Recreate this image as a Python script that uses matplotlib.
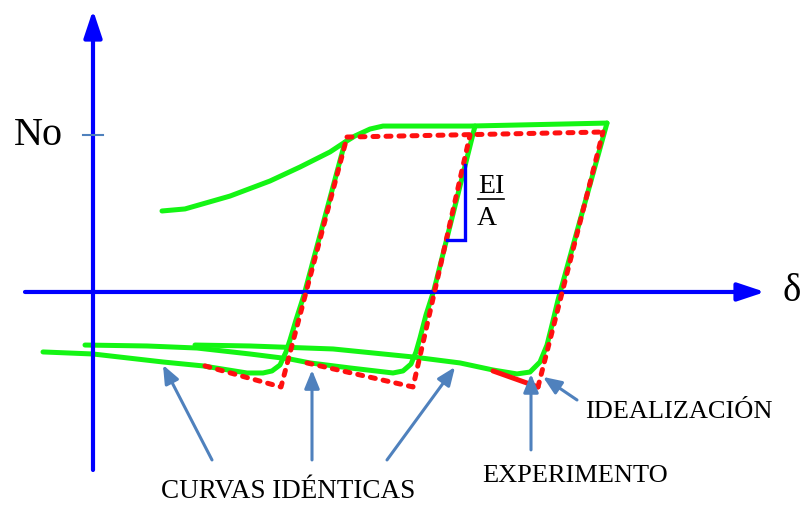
import matplotlib
matplotlib.use("Agg")
import matplotlib.pyplot as plt

# Diagram coordinates: delta (displacement) and N / No (normalised axial force)
X_MIN, X_MAX = -0.93, 7.11
Y_MIN, Y_MAX = -1.357, 1.860

# Experimental curve: first loading branch followed by the yield plateau
load_d = [0.69, 0.92, 1.37, 1.77, 2.07, 2.37, 2.52, 2.62, 2.77, 2.90, 3.77, 5.14]
load_n = [0.516, 0.529, 0.611, 0.707, 0.796, 0.892, 0.955, 0.994, 1.038, 1.057, 1.057, 1.076]

# Experimental compression branches ("identical curves") with their reloading lines
exp1_d = [-0.50, 0.00, 0.70, 1.10, 1.54, 1.70, 1.79, 1.87, 1.93, 1.97, 2.03, 2.11, 2.19, 2.52]
exp1_n = [-0.382, -0.395, -0.446, -0.471, -0.516, -0.516, -0.503, -0.465, -0.382, -0.306, -0.178, -0.019, 0.172, 0.955]

exp2_d = [-0.08, 0.54, 1.04, 1.57, 1.97, 2.17, 2.57, 3.00, 3.10, 3.18, 3.23, 3.27, 3.33, 3.41, 3.82]
exp2_n = [-0.338, -0.344, -0.357, -0.395, -0.427, -0.452, -0.484, -0.516, -0.503, -0.459, -0.382, -0.293, -0.146, 0.013, 1.057]

exp3_d = [1.02, 1.57, 2.40, 3.20, 3.67, 4.00, 4.24, 4.37, 4.47, 4.54, 4.59, 4.65, 5.14]
exp3_n = [-0.338, -0.344, -0.363, -0.414, -0.452, -0.497, -0.522, -0.510, -0.446, -0.338, -0.210, -0.051, 1.076]

# Idealised (bilinear) model
ideal_top_d = [2.54, 5.10]
ideal_top_n = [0.987, 1.019]
ideal1_d = [1.12, 1.88, 2.54]
ideal1_n = [-0.471, -0.605, 0.987]
ideal2_d = [2.14, 3.20, 3.77]
ideal2_n = [-0.452, -0.605, 1.000]
ideal3_flat_d = [4.00, 4.45]
ideal3_flat_n = [-0.503, -0.605]
ideal3_up_d = [4.45, 5.10]
ideal3_up_n = [-0.605, 1.019]

# Elastic slope marker (EI / A)
slope_d = [3.54, 3.72, 3.72]
slope_n = [0.331, 0.331, 0.809]

# Axes extents
axis_x_start, axis_x_tip = -0.68, 6.72
axis_y_start, axis_y_tip = -1.134, 1.796
no_level = 1.0

# Callout arrows: (tail delta, tail N, head delta, head N)
callouts = [
    (1.19, -1.070, 0.70, -0.465),
    (2.19, -1.070, 2.19, -0.497),
    (2.94, -1.070, 3.62, -0.478),
    (4.38, -1.006, 4.38, -0.522),
    (4.84, -0.688, 4.50, -0.541),
]

GREEN = "#14f514"
RED = "#ff1010"
BLUE = "#0000ff"
STEEL = "#4f81bd"
SERIF = "Liberation Serif"

fig = plt.figure(figsize=(8.04, 5.05), dpi=100)
ax = fig.add_axes([0, 0, 1, 1])
ax.set_xlim(X_MIN, X_MAX)
ax.set_ylim(Y_MIN, Y_MAX)
ax.axis("off")

# Experimental curves
green_kw = dict(color=GREEN, lw=3.6, solid_capstyle="round", solid_joinstyle="round", zorder=2)
ax.plot(load_d, load_n, **green_kw)
ax.plot(exp1_d, exp1_n, **green_kw)
ax.plot(exp2_d, exp2_n, **green_kw)
ax.plot(exp3_d, exp3_n, **green_kw)

# Coordinate axes with arrow heads
axis_arrow = dict(arrowstyle="-|>,head_length=1.65,head_width=0.55", mutation_scale=10,
                  lw=3, color=BLUE, shrinkA=0, shrinkB=0)
ax.annotate("", xy=(axis_x_tip, 0), xytext=(axis_x_start, 0), arrowprops=axis_arrow, zorder=3)
ax.annotate("", xy=(0, axis_y_tip), xytext=(0, axis_y_start), arrowprops=axis_arrow, zorder=3)

# Idealised model (dashed)
red_kw = dict(color=RED, lw=3.6, linestyle=(0, (1.0, 1.6)), dash_capstyle="round",
              dash_joinstyle="round", zorder=4)
ax.plot(ideal_top_d, ideal_top_n, **red_kw)
ax.plot(ideal1_d, ideal1_n, **red_kw)
ax.plot(ideal2_d, ideal2_n, **red_kw)
ax.plot(ideal3_up_d, ideal3_up_n, **red_kw)
ax.plot(ideal3_flat_d, ideal3_flat_n, color=RED, lw=3.6, solid_capstyle="round", zorder=4)

# Slope marker
ax.plot(slope_d, slope_n, color=BLUE, lw=2.4, solid_joinstyle="miter", zorder=5)
ax.text(3.98, 0.675, "EI", family=SERIF, fontsize=20, ha="center", va="center", zorder=6)
ax.plot([3.85, 4.11], [0.592, 0.592], color="black", lw=1.2, zorder=6)
ax.text(3.94, 0.465, "A", family=SERIF, fontsize=20, ha="center", va="center", zorder=6)

# No tick and axis labels
ax.plot([-0.10, 0.10], [no_level, no_level], color=STEEL, lw=1.5, zorder=3)
ax.text(-0.55, no_level, "No", family=SERIF, fontsize=29, ha="center", va="center")
ax.text(6.99, 0.0, "δ", family=SERIF, fontsize=28, ha="center", va="center")

# Callouts
callout_arrow = dict(arrowstyle="-|>,head_length=1.1,head_width=0.45", mutation_scale=10,
                     lw=2.2, color=STEEL, shrinkA=0, shrinkB=0)
for td, tn, hd, hn in callouts:
    ax.annotate("", xy=(hd, hn), xytext=(td, tn), arrowprops=callout_arrow, zorder=5)

ax.text(1.95, -1.312, "CURVAS IDÉNTICAS", family=SERIF, fontsize=19.5, ha="center", va="baseline")
ax.text(4.82, -1.210, "EXPERIMENTO", family=SERIF, fontsize=19, ha="center", va="baseline")
ax.text(5.855, -0.803, "IDEALIZACIÓN", family=SERIF, fontsize=19, ha="center", va="baseline")

fig.savefig("out.png", dpi=100)
